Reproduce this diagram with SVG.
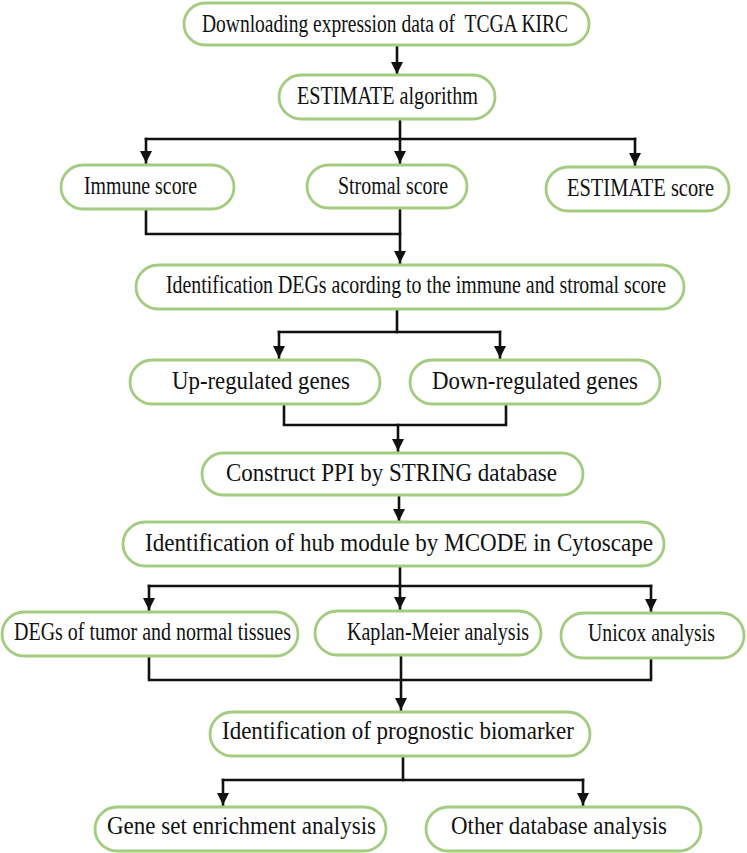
<svg xmlns="http://www.w3.org/2000/svg" width="747" height="853" viewBox="0 0 747 853">
<style>
.box{fill:#ffffff;stroke:#a3cc80;stroke-width:2.8}
.lbl{font-family:"Liberation Serif","Times New Roman",serif;font-size:24.5px;fill:#111}
.con{fill:none;stroke:#111;stroke-width:2.6;stroke-linecap:square}
</style>
<defs>
<marker id="ah" markerUnits="userSpaceOnUse" markerWidth="12" markerHeight="12" viewBox="0 0 12 12" refX="12" refY="6" orient="auto">
<path d="M0,0 L12,6 L0,12 z" fill="#111"/>
</marker>
</defs>
<rect width="747" height="853" fill="#ffffff"/>
<g id="connectors">
<path class="con" d="M397,45 V74" marker-end="url(#ah)"/>
<path class="con" d="M400,119 V163" marker-end="url(#ah)"/>
<path class="con" d="M146,139 H635"/>
<path class="con" d="M146,139 V163" marker-end="url(#ah)"/>
<path class="con" d="M635,139 V165" marker-end="url(#ah)"/>
<path class="con" d="M146,209 V234 H400"/>
<path class="con" d="M400,208 V263" marker-end="url(#ah)"/>
<path class="con" d="M397,309 V332"/>
<path class="con" d="M279,332 H500"/>
<path class="con" d="M279,332 V358" marker-end="url(#ah)"/>
<path class="con" d="M500,332 V358" marker-end="url(#ah)"/>
<path class="con" d="M284,404 V425 H506 V404"/>
<path class="con" d="M398,425 V451" marker-end="url(#ah)"/>
<path class="con" d="M399,495 V521" marker-end="url(#ah)"/>
<path class="con" d="M400,566 V609" marker-end="url(#ah)"/>
<path class="con" d="M149,586 H651"/>
<path class="con" d="M149,586 V610" marker-end="url(#ah)"/>
<path class="con" d="M651,586 V611" marker-end="url(#ah)"/>
<path class="con" d="M149,656 V680 H651 V658"/>
<path class="con" d="M401,655 V710" marker-end="url(#ah)"/>
<path class="con" d="M403,756 V780"/>
<path class="con" d="M223,780 H583"/>
<path class="con" d="M223,780 V805" marker-end="url(#ah)"/>
<path class="con" d="M583,780 V805" marker-end="url(#ah)"/>
</g>
<g id="n1"><rect class="box" x="184" y="3" width="405" height="42" rx="21"/><text class="lbl" x="202" y="32" textLength="366" lengthAdjust="spacingAndGlyphs" xml:space="preserve">Downloading expression data of  TCGA KIRC</text></g>
<g id="n2"><rect class="box" x="279" y="75" width="216" height="44" rx="22"/><text class="lbl" x="297" y="104" textLength="181" lengthAdjust="spacingAndGlyphs">ESTIMATE algorithm</text></g>
<g id="n3"><rect class="box" x="61" y="165" width="173" height="44" rx="22"/><text class="lbl" x="84" y="194" textLength="113" lengthAdjust="spacingAndGlyphs">Immune score</text></g>
<g id="n4"><rect class="box" x="307" y="165" width="160" height="43" rx="21.5"/><text class="lbl" x="338" y="194" textLength="110" lengthAdjust="spacingAndGlyphs">Stromal score</text></g>
<g id="n5"><rect class="box" x="546" y="167" width="183" height="44" rx="22"/><text class="lbl" x="567" y="196" textLength="147" lengthAdjust="spacingAndGlyphs">ESTIMATE score</text></g>
<g id="n6"><rect class="box" x="136" y="265" width="548" height="44" rx="22"/><text class="lbl" transform="translate(166,293) scale(0.813,1)" x="0" y="0" textLength="615" lengthAdjust="spacingAndGlyphs">Identification DEGs acording to the immune and stromal score</text></g>
<g id="n7"><rect class="box" x="130" y="360" width="250" height="44" rx="22"/><text class="lbl" x="172" y="389" textLength="178" lengthAdjust="spacingAndGlyphs">Up-regulated genes</text></g>
<g id="n8"><rect class="box" x="410" y="360" width="250" height="44" rx="22"/><text class="lbl" x="432" y="389" textLength="206" lengthAdjust="spacingAndGlyphs">Down-regulated genes</text></g>
<g id="n9"><rect class="box" x="202" y="453" width="381" height="42" rx="21"/><text class="lbl" x="226" y="481" textLength="331" lengthAdjust="spacingAndGlyphs">Construct PPI by STRING database</text></g>
<g id="n10"><rect class="box" x="123" y="522" width="541" height="44" rx="22"/><text class="lbl" x="145" y="551" textLength="508" lengthAdjust="spacingAndGlyphs">Identification of hub module by MCODE in Cytoscape</text></g>
<g id="n11"><rect class="box" x="2" y="612" width="296" height="44" rx="22"/><text class="lbl" x="14" y="640" textLength="277" lengthAdjust="spacingAndGlyphs">DEGs of tumor and normal tissues</text></g>
<g id="n12"><rect class="box" x="315" y="611" width="226" height="44" rx="22"/><text class="lbl" x="347" y="640" textLength="182" lengthAdjust="spacingAndGlyphs">Kaplan-Meier analysis</text></g>
<g id="n13"><rect class="box" x="561" y="613" width="183" height="45" rx="22.5"/><text class="lbl" x="588" y="641" textLength="127" lengthAdjust="spacingAndGlyphs">Unicox analysis</text></g>
<g id="n14"><rect class="box" x="210" y="712" width="380" height="44" rx="22"/><text class="lbl" x="222" y="739" textLength="352" lengthAdjust="spacingAndGlyphs">Identification of prognostic biomarker</text></g>
<g id="n15"><rect class="box" x="95" y="807" width="291" height="44" rx="22"/><text class="lbl" x="107" y="834" textLength="269" lengthAdjust="spacingAndGlyphs">Gene set enrichment analysis</text></g>
<g id="n16"><rect class="box" x="426" y="807" width="275" height="44" rx="22"/><text class="lbl" x="451" y="834" textLength="216" lengthAdjust="spacingAndGlyphs">Other database analysis</text></g>
</svg>
